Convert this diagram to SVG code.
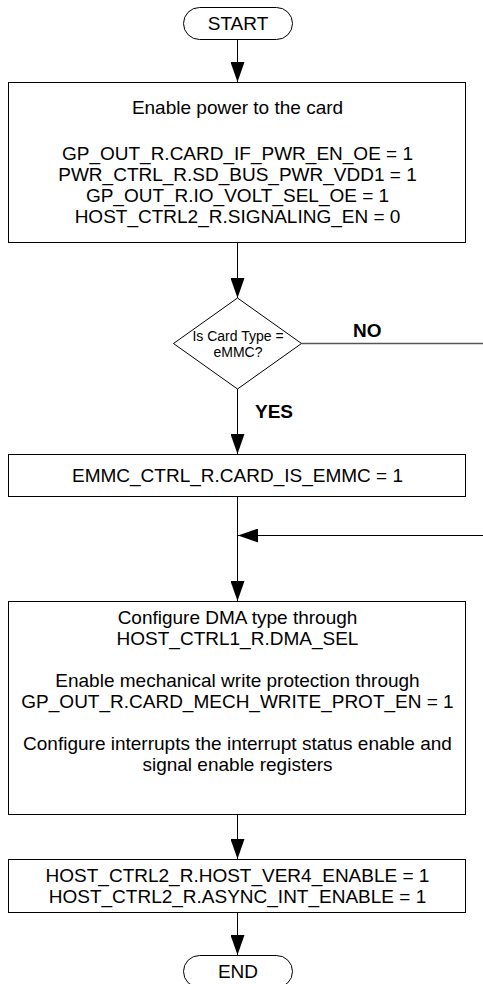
<svg xmlns="http://www.w3.org/2000/svg" width="483" height="984" viewBox="0 0 483 984">
<style>
.box{fill:#fff;stroke:#000;stroke-width:1}
.t{font-family:"Liberation Sans",Arial,sans-serif;font-size:19px;fill:#000;text-anchor:middle}
.s{font-family:"Liberation Sans",Arial,sans-serif;font-size:14px;fill:#000;text-anchor:middle}
.b{font-family:"Liberation Sans",Arial,sans-serif;font-size:19px;font-weight:bold;fill:#000}
.c{fill:none;stroke:#000;stroke-width:1}
</style>
<defs>
<marker id="arr" markerUnits="userSpaceOnUse" markerWidth="20" markerHeight="14" refX="20" refY="7" orient="auto">
<path d="M0,0 L20,7 L0,14 z" fill="#000"/>
</marker>
</defs>
<rect width="483" height="984" fill="#fff"/>
<g id="connectors">
<line class="c" x1="237.5" y1="39" x2="237.5" y2="82" marker-end="url(#arr)"/>
<line class="c" x1="237.5" y1="243" x2="237.5" y2="298" marker-end="url(#arr)"/>
<line x1="301.5" y1="343.5" x2="483" y2="343.5" stroke="#555" stroke-width="1.5"/>
<line class="c" x1="237.5" y1="389" x2="237.5" y2="454" marker-end="url(#arr)"/>
<line class="c" x1="237.5" y1="497" x2="237.5" y2="601" marker-end="url(#arr)"/>
<line class="c" x1="483" y1="535.5" x2="238" y2="535.5" marker-end="url(#arr)"/>
<line class="c" x1="237.5" y1="815" x2="237.5" y2="859" marker-end="url(#arr)"/>
<line class="c" x1="237.5" y1="913" x2="237.5" y2="955" marker-end="url(#arr)"/>
<text class="b" x="353" y="337">NO</text>
<text class="b" x="255" y="418">YES</text>
</g>
<g id="start">
<rect class="box" x="183.5" y="7.5" width="109" height="32" rx="16" ry="16"/>
<text class="t" x="238" y="30">START</text>
</g>
<g id="power">
<rect class="box" x="8.5" y="82.5" width="457" height="160"/>
<text class="t" x="237.5" y="114">Enable power to the card</text>
<text class="t" x="237.5" y="160">GP_OUT_R.CARD_IF_PWR_EN_OE = 1</text>
<text class="t" x="237.5" y="181">PWR_CTRL_R.SD_BUS_PWR_VDD1 = 1</text>
<text class="t" x="237.5" y="202">GP_OUT_R.IO_VOLT_SEL_OE = 1</text>
<text class="t" x="237.5" y="223">HOST_CTRL2_R.SIGNALING_EN = 0</text>
</g>
<g id="decision">
<polygon class="box" points="237.5,298 301.5,343.5 237.5,389 173.5,343.5"/>
<text class="s" x="238" y="341">Is Card Type =</text>
<text class="s" x="238" y="357">eMMC?</text>
</g>
<g id="emmc">
<rect class="box" x="8.5" y="454.5" width="457" height="42"/>
<text class="t" x="237.5" y="482">EMMC_CTRL_R.CARD_IS_EMMC = 1</text>
</g>
<g id="config">
<rect class="box" x="8.5" y="601.5" width="457" height="213"/>
<text class="t" x="237.5" y="624">Configure DMA type through</text>
<text class="t" x="237.5" y="645">HOST_CTRL1_R.DMA_SEL</text>
<text class="t" x="237.5" y="687">Enable mechanical write protection through</text>
<text class="t" x="237.5" y="708">GP_OUT_R.CARD_MECH_WRITE_PROT_EN = 1</text>
<text class="t" x="237.5" y="750">Configure interrupts the interrupt status enable and</text>
<text class="t" x="237.5" y="771">signal enable registers</text>
</g>
<g id="hostver">
<rect class="box" x="8.5" y="859.5" width="457" height="53"/>
<text class="t" x="237.5" y="882">HOST_CTRL2_R.HOST_VER4_ENABLE = 1</text>
<text class="t" x="237.5" y="903">HOST_CTRL2_R.ASYNC_INT_ENABLE = 1</text>
</g>
<g id="end">
<rect class="box" x="183.5" y="955.5" width="109" height="32" rx="16" ry="16"/>
<text class="t" x="238" y="978">END</text>
</g>
</svg>
